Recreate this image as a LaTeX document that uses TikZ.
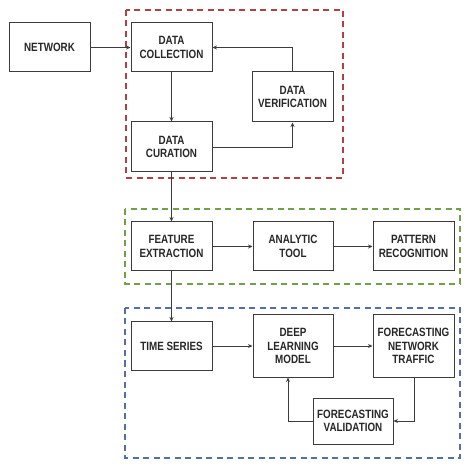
\documentclass[tikz,border=0pt]{standalone}
\usepackage{fontspec}
\setmainfont{Liberation Sans}[FakeStretch=0.82]
\usetikzlibrary{arrows.meta}
\definecolor{redd}{RGB}{178,62,70}
\definecolor{grnd}{RGB}{112,160,72}
\definecolor{blud}{RGB}{84,112,162}
\definecolor{boxc}{RGB}{60,60,60}
\tikzset{
  blk/.style={draw=boxc, line width=1pt, rectangle, align=center, inner sep=1pt,
    font=\fontsize{12}{13.5}\selectfont\bfseries, text=black!85},
  arr/.style={draw=boxc, line width=0.8pt, -{Stealth[length=4.5pt,width=4pt]}},
  grp/.style={dash pattern=on 6pt off 4.5pt, line width=2pt},
}
\begin{document}
\begin{tikzpicture}[x=1pt,y=-1pt]
\useasboundingbox (0,0) rectangle (474,470);
% groups
\draw[grp, redd] (126,10) rectangle (343,178);
\draw[grp, grnd] (125,209) rectangle (460,284);
\draw[grp, blud] (125,308) rectangle (460,458);
% nodes
\node[blk, minimum width=81pt, minimum height=49pt] (net) at (49.5,47.5) {NETWORK};
\node[blk, minimum width=81pt, minimum height=49pt] (dc) at (171.5,47.5) {DATA\\COLLECTION};
\node[blk, minimum width=81pt, minimum height=50pt] (dv) at (292.5,97) {DATA\\VERIFICATION};
\node[blk, minimum width=81pt, minimum height=50pt] (dcur) at (171.5,147) {DATA\\CURATION};
\node[blk, minimum width=81pt, minimum height=49pt] (fe) at (171.5,246.5) {FEATURE\\EXTRACTION};
\node[blk, minimum width=80pt, minimum height=49pt] (at) at (293,246.5) {ANALYTIC\\TOOL};
\node[blk, minimum width=81pt, minimum height=49pt] (pr) at (413.5,246.5) {PATTERN\\RECOGNITION};
\node[blk, minimum width=81pt, minimum height=48pt] (ts) at (171.5,346) {TIME SERIES};
\node[blk, minimum width=80pt, minimum height=62pt] (dl) at (293,346) {DEEP\\LEARNING\\MODEL};
\node[blk, minimum width=81pt, minimum height=62pt] (fnt) at (413.5,346) {FORECASTING\\NETWORK\\TRAFFIC};
\node[blk, minimum width=80pt, minimum height=46pt] (fv) at (353,421) {FORECASTING\\VALIDATION};
% connectors
\draw[arr] (net) -- (dc);
\draw[arr] (dc) -- (dcur);
\draw[arr] (dcur.east) -| (dv.south);
\draw[arr] (dv.north) |- (dc.east);
\draw[arr] (dcur) -- (fe);
\draw[arr] (fe) -- (at);
\draw[arr] (at) -- (pr);
\draw[arr] (fe) -- (ts);
\draw[arr] (ts.east) -- (dl.west |- ts.east);
\draw[arr] (dl) -- (fnt);
\draw[arr] ([xshift=0.5pt]fnt.south) |- (fv.east);
\draw[arr] (fv.west) -| ([xshift=-5pt]dl.south);
\end{tikzpicture}
\end{document}
